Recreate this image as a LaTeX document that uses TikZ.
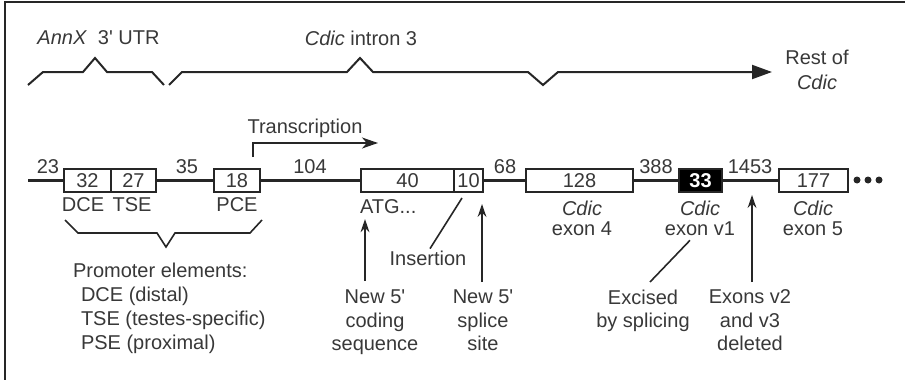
\documentclass[tikz,border=0pt]{standalone}
\usepackage{fontspec}
\setmainfont{Liberation Sans}
\usetikzlibrary{arrows.meta,calc}
\definecolor{ink}{HTML}{262626}
\definecolor{txt}{HTML}{383838}
\begin{document}
\begin{tikzpicture}[x=0.5pt,y=-0.5pt,
 every node/.style={inner sep=0pt,outer sep=0pt,text=txt,font=\fontsize{10}{11.75}\selectfont},
 seg/.style={draw=ink,line width=1.5pt},
 exbox/.style={draw=ink,line width=0.75pt,fill=white,minimum height=11.5pt,rectangle},
 lbl/.style={align=center,anchor=north},
 exlbl/.style={align=center,anchor=north,font=\fontsize{10}{9.8}\selectfont},
 thinl/.style={draw=ink,line width=0.8pt},
 arr/.style={draw=ink,line width=0.9pt,-{Stealth[length=6.5pt,width=4.4pt]}}
]
\useasboundingbox (0,0) rectangle (905,380);
% frame
\draw[ink,line width=1pt] (905,2) -- (5,2) -- (5,380);

% top region
\node (annx) at (98.5,38) {\textit{AnnX}\hspace{0.55em}3\textquotesingle\ UTR};
\node (intron) at (361,38) {\textit{Cdic} intron 3};
\node[align=center] (rest) at (817,70) {Rest of\\[0.6pt]\textit{Cdic}};
\draw[ink,line width=1pt] (28,85) -- (43,72) -- (83,72) -- (95,58) -- (107,72) -- (152,72) -- (164,85);
\coordinate (tipR) at (772,72);
\draw[ink,line width=1pt,-{Triangle[length=10pt,width=7pt]}] (169,85) -- (182,72) -- (347,72) -- (360,58) -- (373,72) -- (528,72) -- (543,85) -- (558,72) -- (tipR);

% exon/element boxes
\node[exbox,minimum width=23.5pt] (dce) at (87.5,180.5) {\raisebox{-1pt}{32}};
\node[exbox,minimum width=22.5pt] (tse) at (133.5,180.5) {\raisebox{-1pt}{27}};
\node[exbox,minimum width=23pt] (pce) at (237,180.5) {\raisebox{-1pt}{18}};
\node[exbox,minimum width=46.5pt] (b40) at (407.5,180.5) {\raisebox{-1pt}{40}};
\node[exbox,minimum width=14.5pt] (b10) at (468.5,180.5) {\raisebox{-1pt}{10}};
\node[exbox,minimum width=53.5pt] (b128) at (579.5,180.5) {\raisebox{-1pt}{128}};
\node[exbox,minimum width=21.5pt,fill=black,text=white,font=\fontsize{10}{11.75}\selectfont\bfseries] (b33) at (700.5,180.5) {\raisebox{-1pt}{33}};
\node[exbox,minimum width=34.5pt] (b177) at (813.5,180.5) {\raisebox{-1pt}{177}};

% main line
\coordinate (start) at (28,180.5);
\draw[seg] (start) -- (dce.west);
\draw[seg] (tse.east) -- (pce.west);
\draw[seg] (pce.east) -- (b40.west);
\draw[seg] (b10.east) -- (b128.west);
\draw[seg] (b128.east) -- (b33.west);
\draw[seg] (b33.east) -- (b177.west);
\fill[ink] (857,180) circle[radius=1.75pt] (868,180) circle[radius=1.75pt] (879,180) circle[radius=1.75pt];

% intron lengths
\node (n23) at (48,167) {23};
\node (n35) at (187,167) {35};
\node (n104) at (310,167) {104};
\node (n68) at (505,167) {68};
\node (n388) at (656,167) {388};
\node (n1453) at (750,167) {1453};

% transcription
\node (trans) at (305,128) {Transcription};
\coordinate (tr0) at (253,157);
\coordinate (tr1) at (378,143);
\draw[ink,line width=0.9pt,-{Stealth[length=8pt,width=5.5pt,inset=2.4pt]}] (tr0) |- (tr1);

% labels under boxes
\node (ldce) at (83,205) {DCE};
\node (ltse) at (132,205) {TSE};
\node (lpce) at (237,205) {PCE};
\draw[thinl] (65,220) -- (78,233) -- (157,233) -- (166,247) -- (175,233) -- (250,233) -- (262,220);
\node[anchor=west] (prom) at (73,270) {Promoter elements:};
\node[anchor=west] (p1) at (81,296) {DCE (distal)};
\node[anchor=west] (p2) at (81,320) {TSE (testes-specific)};
\node[anchor=west] (p3) at (81,344) {PSE (proximal)};

\node[anchor=west] (atg) at (360,207) {ATG...};
\node[lbl] (ncs) at (375,290) {New 5\textquotesingle\\coding\\sequence};
\draw[arr] ($(ncs.north)+(-10,-9)$) -- ($(atg.south west)+(5,5)$);

\node (ins) at (428,258) {Insertion};
\draw[thinl] ($(b10.south)+(-6.5,6)$) -- ($(ins.north)+(2,-2)$);

\node[lbl] (nss) at (483,290) {New 5\textquotesingle\\splice\\site};
\draw[arr] ($(nss.north)+(-1,-8)$) -- ($(b10.south east)+(-1,12)$);

\node[exlbl] (ex4) at (582,201) {\textit{Cdic}\\exon 4};
\node[exlbl] (exv1) at (700,201) {\textit{Cdic}\\exon v1};
\node[exlbl] (ex5) at (813,201) {\textit{Cdic}\\exon 5};

\node[lbl] (exc) at (643,290) {Excised\\by splicing};
\draw[thinl] ($(exv1.south)+(-10,5)$) -- ($(exc.north)+(7,-8)$);

\node[lbl] (del) at (750,290) {Exons v2\\and v3\\deleted};
\draw[arr] ($(del.north)+(2,-8)$) -- ($(b33.south east)+(30,3)$);
\end{tikzpicture}
\end{document}
